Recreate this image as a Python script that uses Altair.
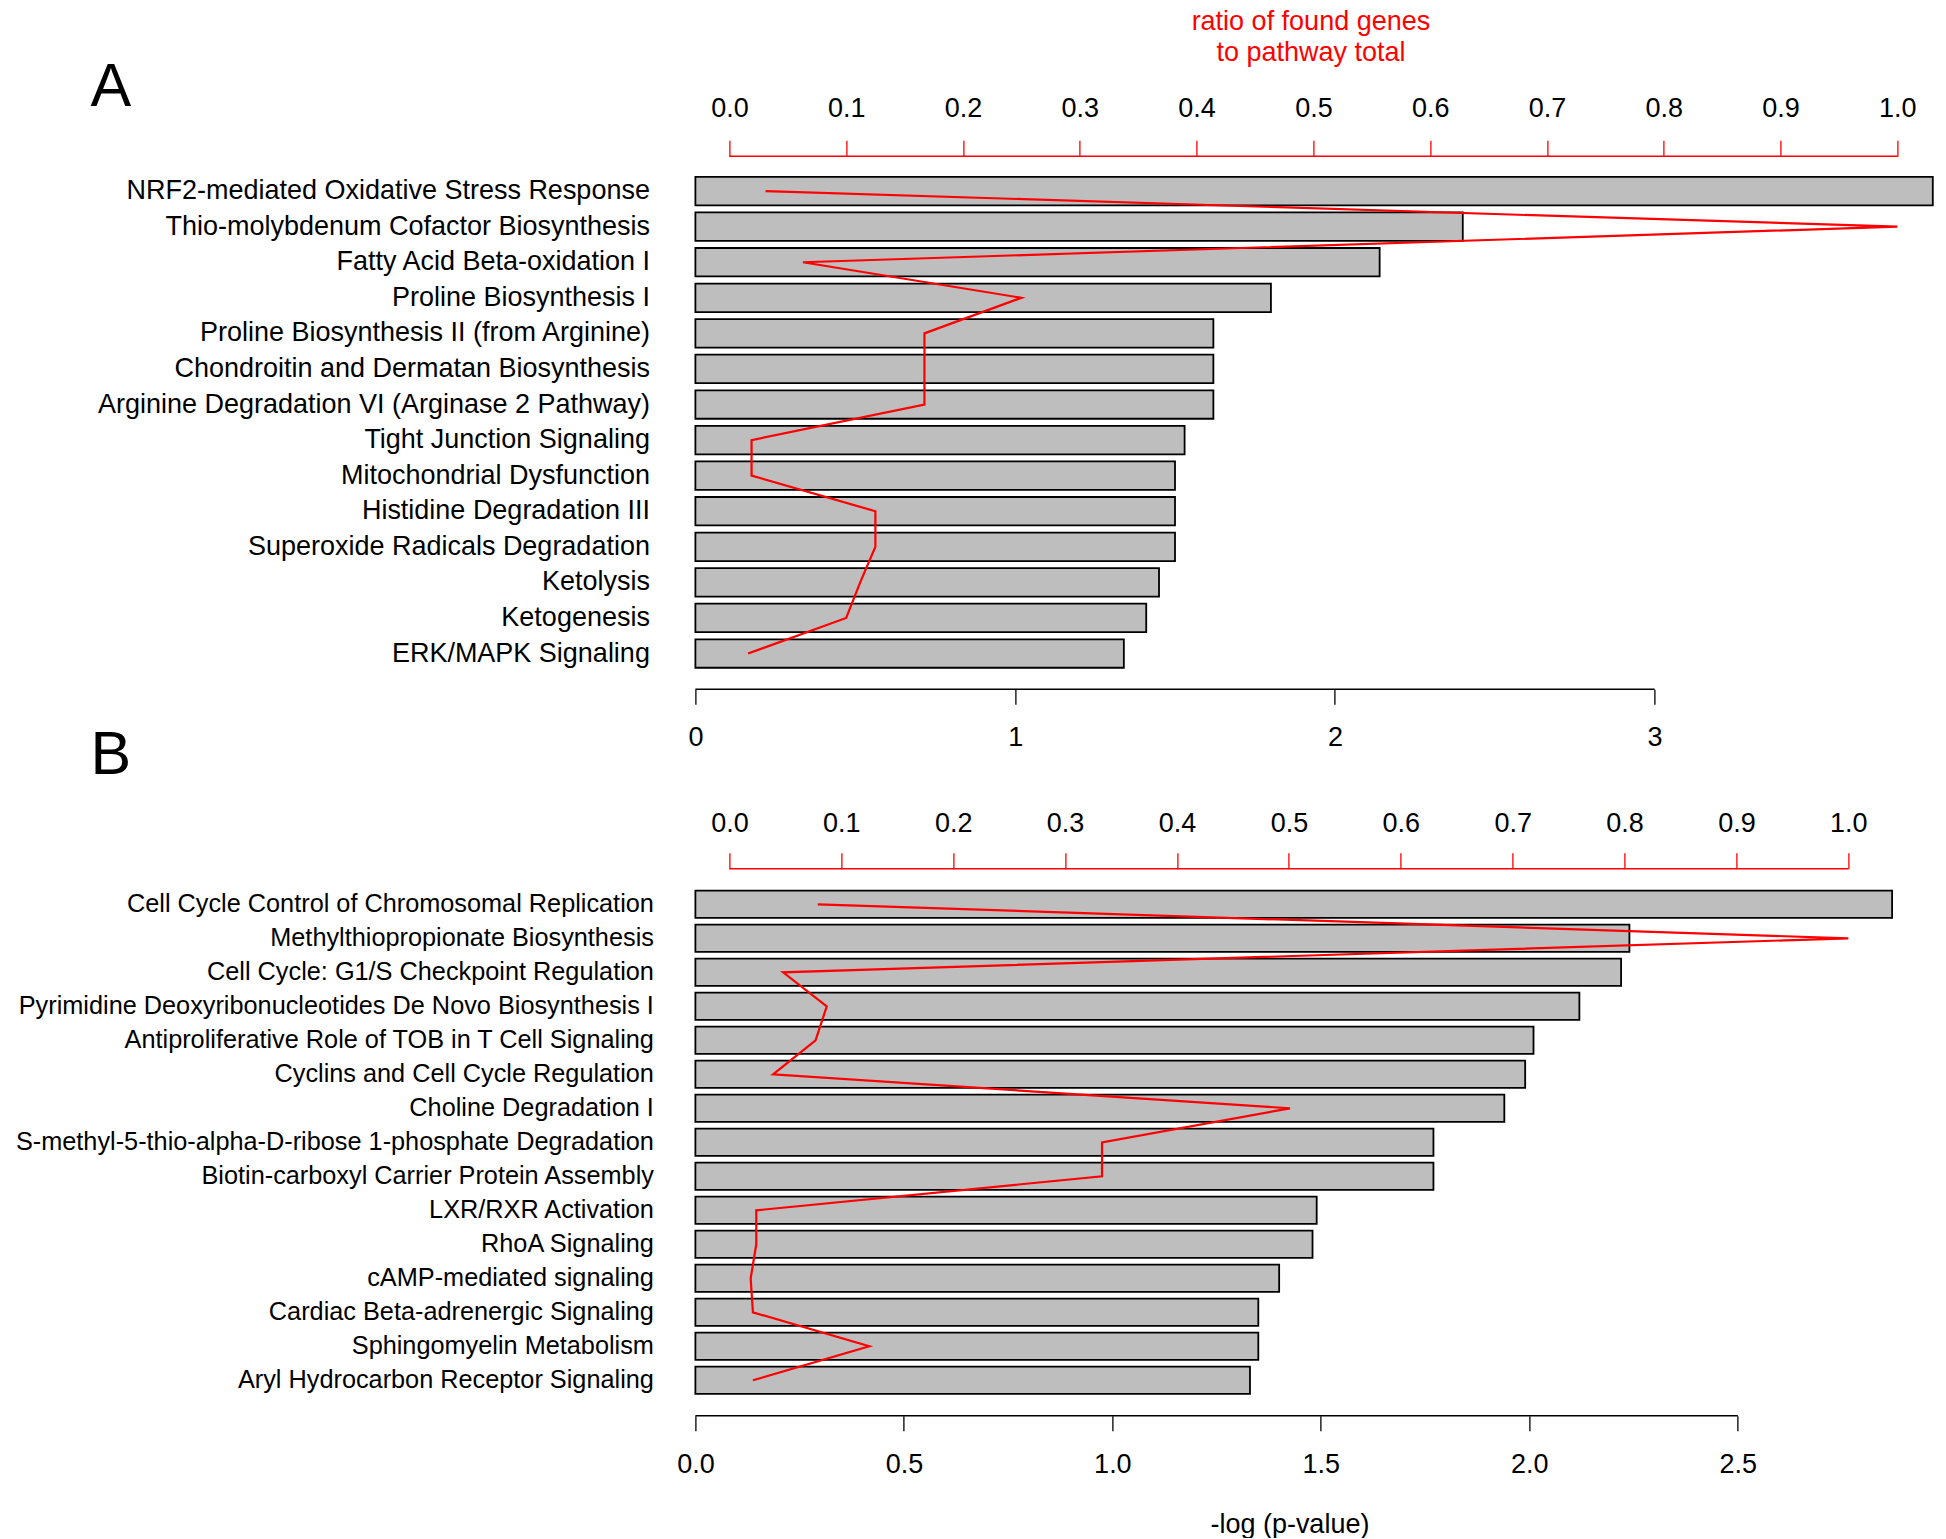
import altair as alt
import pandas as pd

# ---------------- data ----------------
pathways_a = [
    "NRF2-mediated Oxidative Stress Response",
    "Thio-molybdenum Cofactor Biosynthesis",
    "Fatty Acid Beta-oxidation I",
    "Proline Biosynthesis I",
    "Proline Biosynthesis II (from Arginine)",
    "Chondroitin and Dermatan Biosynthesis",
    "Arginine Degradation VI (Arginase 2 Pathway)",
    "Tight Junction Signaling",
    "Mitochondrial Dysfunction",
    "Histidine Degradation III",
    "Superoxide Radicals Degradation",
    "Ketolysis",
    "Ketogenesis",
    "ERK/MAPK Signaling",
]
neglogp_a = [3.87, 2.40, 2.14, 1.80, 1.62, 1.62, 1.62, 1.53, 1.50, 1.50, 1.50, 1.45, 1.41, 1.34]
ratio_a = [0.031, 1.0, 0.063, 0.250, 0.167, 0.167, 0.167, 0.019, 0.019, 0.125, 0.125, 0.112, 0.100, 0.016]

pathways_b = [
    "Cell Cycle Control of Chromosomal Replication",
    "Methylthiopropionate Biosynthesis",
    "Cell Cycle: G1/S Checkpoint Regulation",
    "Pyrimidine Deoxyribonucleotides De Novo Biosynthesis I",
    "Antiproliferative Role of TOB in T Cell Signaling",
    "Cyclins and Cell Cycle Regulation",
    "Choline Degradation I",
    "S-methyl-5-thio-alpha-D-ribose 1-phosphate Degradation",
    "Biotin-carboxyl Carrier Protein Assembly",
    "LXR/RXR Activation",
    "RhoA Signaling",
    "cAMP-mediated signaling",
    "Cardiac Beta-adrenergic Signaling",
    "Sphingomyelin Metabolism",
    "Aryl Hydrocarbon Receptor Signaling",
]
neglogp_b = [2.87, 2.24, 2.22, 2.12, 2.01, 1.99, 1.94, 1.77, 1.77, 1.49, 1.48, 1.40, 1.35, 1.35, 1.33]
ratio_b = [0.079, 1.0, 0.048, 0.087, 0.077, 0.039, 0.501, 0.333, 0.333, 0.024, 0.024, 0.019, 0.021, 0.125, 0.021]

pval_ticks_a = [0, 1, 2, 3]
pval_ticks_b = [0.0, 0.5, 1.0, 1.5, 2.0, 2.5]
ratio_ticks = [0.0, 0.1, 0.2, 0.3, 0.4, 0.5, 0.6, 0.7, 0.8, 0.9, 1.0]

ratio_title = ["ratio of found genes", "to pathway total"]
pval_title = "-log (p-value)"

# ---------------- styling ----------------
FONT = "Liberation Sans"
FS = 27
RED = "#FF0000"
BAR_FILL = "#BEBEBE"


def make_panel(letter, names, neglogp, ratio, pv_ticks, pv_format, pv_max,
               rt_min, rt_max, width, height,
               top_offset, top_tick, top_pad,
               bottom_offset, bottom_tick, bottom_pad,
               letter_x, letter_y, name_fs, name_pad,
               top_title=None, bottom_title=None):
    df = pd.DataFrame({"pathway": names, "neglogp": neglogp, "ratio": ratio,
                       "order": list(range(len(names)))})
    base = alt.Chart(df)
    yscale = alt.Scale(paddingInner=0.2, paddingOuter=0.1)
    pv_scale = alt.Scale(domain=[0, pv_max], nice=False)
    rt_scale = alt.Scale(domain=[rt_min, rt_max], nice=False, zero=False)

    yaxis = alt.Axis(title=None, ticks=False, domain=False, grid=False,
                     labelFont=FONT, labelFontSize=name_fs, labelColor="black",
                     labelPadding=name_pad, labelLimit=2000)

    bax = dict(orient="bottom", values=pv_ticks, format=pv_format, domain=False, grid=False,
               tickSize=bottom_tick, tickColor="black", tickWidth=1.3,
               labelFont=FONT, labelFontSize=FS, labelColor="black",
               labelBaseline="alphabetic", labelPadding=bottom_pad,
               labelFlush=False, labelOverlap=False, offset=bottom_offset)
    if bottom_title:
        bax.update(title=bottom_title, titleFont=FONT, titleFontSize=FS,
                   titleFontWeight="normal", titleColor="black",
                   titleX=594, titleY=117, titleBaseline="alphabetic",
                   titleAlign="center", titleAngle=0)
    else:
        bax.update(title=None)

    tax = dict(orient="top", values=ratio_ticks, format=".1f", domain=False, grid=False,
               tickSize=top_tick, tickColor=RED, tickWidth=1.3,
               labelFont=FONT, labelFontSize=FS, labelColor="black",
               labelBaseline="alphabetic", labelPadding=top_pad,
               labelFlush=False, labelOverlap=False, offset=top_offset)
    if top_title:
        tax.update(title=top_title, titleFont=FONT, titleFontSize=FS,
                   titleFontWeight="normal", titleColor=RED,
                   titleX=615, titleY=-126.7, titleBaseline="alphabetic",
                   titleAlign="center", titleAngle=0, titleLineHeight=31)
    else:
        tax.update(title=None)

    bars = base.mark_bar(fill=BAR_FILL, stroke="black", strokeWidth=1.8).encode(
        x=alt.X("neglogp:Q", scale=pv_scale, axis=alt.Axis(**bax)),
        y=alt.Y("pathway:N", sort=names, scale=yscale, axis=yaxis),
    )

    bottom_rule = alt.Chart(pd.DataFrame({"start": [pv_ticks[0]], "end": [pv_ticks[-1]]})).mark_rule(
        color="black", strokeWidth=1.6).encode(
        x=alt.X("start:Q", scale=pv_scale, axis=None),
        x2="end:Q",
        y=alt.value(height + bottom_offset),
    )

    line = base.mark_line(color=RED, strokeWidth=2.2).encode(
        x=alt.X("ratio:Q", scale=rt_scale, axis=alt.Axis(**tax)),
        y=alt.Y("pathway:N", sort=names, scale=yscale, axis=yaxis),
        order=alt.Order("order:Q"),
    )

    top_rule = alt.Chart(pd.DataFrame({"start": [ratio_ticks[0]], "end": [ratio_ticks[-1]]})).mark_rule(
        color=RED, strokeWidth=1.6).encode(
        x=alt.X("start:Q", scale=rt_scale, axis=None),
        x2="end:Q",
        y=alt.value(-top_offset),
    )

    letter_mark = alt.Chart(pd.DataFrame({"t": [letter]})).mark_text(
        font=FONT, fontSize=61, align="left", baseline="alphabetic", color="black").encode(
        text="t:N", x=alt.value(letter_x), y=alt.value(letter_y))

    return alt.layer(bars, bottom_rule, line, top_rule, letter_mark).resolve_scale(
        x="independent").properties(width=width, height=height)


panel_a = make_panel("A", pathways_a, neglogp_a, ratio_a, pval_ticks_a, "d", 3.875,
                     -0.0291, 1.0317, 1239, 498,
                     top_offset=17, top_tick=16, top_pad=23.5,
                     bottom_offset=18, bottom_tick=15, bottom_pad=41.5,
                     letter_x=-605, letter_y=-67.5, name_fs=27, name_pad=46,
                     top_title=ratio_title)

panel_b = make_panel("B", pathways_b, neglogp_b, ratio_b, pval_ticks_b, ".1f", 2.969,
                     -0.0304, 1.0760, 1238, 510,
                     top_offset=18.5, top_tick=16, top_pad=21.5,
                     bottom_offset=18.5, bottom_tick=15, bottom_pad=41.5,
                     letter_x=-605, letter_y=-113.5, name_fs=25.3, name_pad=42,
                     bottom_title=pval_title)

chart = alt.vconcat(panel_a, panel_b, spacing=216, bounds="flush").properties(
    padding={"left": 6.4, "top": -0.7, "right": 0, "bottom": 0}
).configure(font=FONT).configure_view(stroke=None, strokeWidth=0)

chart.save("out.html", embed_options={"renderer": "svg", "actions": False})
